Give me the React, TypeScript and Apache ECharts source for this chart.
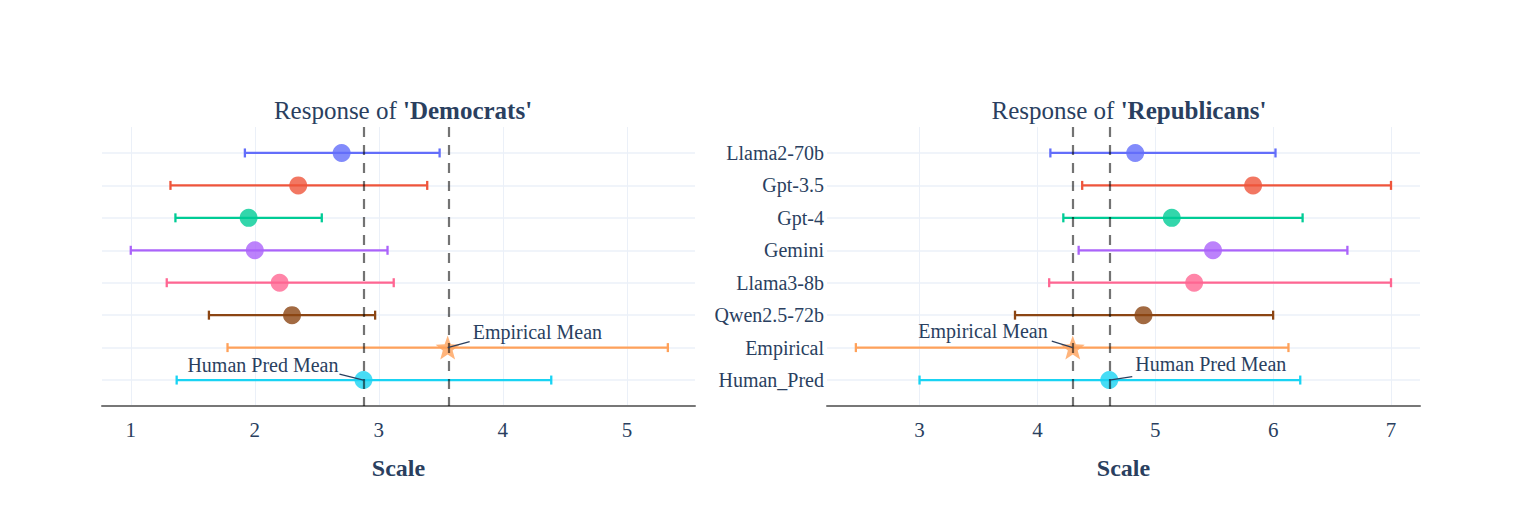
import React, { useEffect, useRef } from "react";
import * as echarts from "echarts";

const models = ["Llama2-70b", "Gpt-3.5", "Gpt-4", "Gemini", "Llama3-8b", "Qwen2.5-72b", "Empirical", "Human_Pred"];
const colors = ["#636EFA", "#EF553B", "#00CC96", "#AB63FA", "#FF6692", "#8B4513", "#FFA15A", "#19D3F3"];

const demMean = [2.70, 2.35, 1.95, 2.00, 2.20, 2.30, 3.555, 2.876];
const demLow = [1.92, 1.32, 1.36, 1.00, 1.29, 1.63, 1.78, 1.37];
const demHigh = [3.49, 3.39, 2.54, 3.07, 3.12, 2.97, 5.33, 4.39];

const repMean = [4.83, 5.83, 5.14, 5.49, 5.33, 4.90, 4.30, 4.61];
const repLow = [4.11, 4.38, 4.22, 4.35, 4.10, 3.81, 2.46, 3.00];
const repHigh = [6.02, 7.00, 6.25, 6.63, 7.00, 6.00, 6.13, 6.23];

const demTicks = [1, 2, 3, 4, 5];
const repTicks = [3, 4, 5, 6, 7];
const demRange = [0.768, 5.549];
const repRange = [2.215, 7.246];
const rowRange = [-0.8, 7.8];
const rowTicks = [0, 1, 2, 3, 4, 5, 6, 7];

const EMP = 6;
const HUM = 7;

const FONT = "Liberation Serif";
const TXT = "#2a3f5f";
const STAR = "path://M50,0 L62.5,34 L99,35.5 L70,58 L80.3,93.3 L50,73 L19.7,93.3 L30,58 L1,35.5 L37.5,34 Z";

export default function App() {
  const ref = useRef<HTMLDivElement>(null);
  useEffect(() => {
    if (!ref.current) return;
    const chart = echarts.init(ref.current, null, { renderer: "svg" });

    const errRender = (params: any, api: any) => {
      const idx = api.value(2);
      const lo = api.coord([api.value(0), idx]);
      const hi = api.coord([api.value(1), idx]);
      const c = colors[idx];
      const h = 4.5;
      const st = { stroke: c, lineWidth: 2.3 };
      return {
        type: "group",
        children: [
          { type: "line", shape: { x1: lo[0], y1: lo[1], x2: hi[0], y2: hi[1] }, style: st },
          { type: "line", shape: { x1: lo[0], y1: lo[1] - h, x2: lo[0], y2: lo[1] + h }, style: st },
          { type: "line", shape: { x1: hi[0], y1: hi[1] - h, x2: hi[0], y2: hi[1] + h }, style: st },
        ],
      };
    };

    const makeAnnRender = (layout: any[]) => (params: any, api: any) => {
      const i = params.dataIndex;
      const p = api.coord([api.value(0), api.value(1)]);
      const L = layout[i];
      return {
        type: "group",
        children: [
          {
            type: "line",
            shape: { x1: p[0], y1: p[1], x2: p[0] + L.ex, y2: p[1] + L.ey },
            style: { stroke: TXT, lineWidth: 1.2 },
          },
          {
            type: "text",
            x: p[0] + L.tx,
            y: p[1] + L.ty,
            style: {
              text: L.text,
              fill: TXT,
              fontFamily: FONT,
              fontSize: 20,
              align: L.align,
              verticalAlign: "middle",
            },
          },
        ],
      };
    };

    const demAnn = [
      { text: "Empirical Mean", tx: 25, ty: -16, ex: 22, ey: -6, align: "left" },
      { text: "Human Pred Mean", tx: -25, ty: -15, ex: -24, ey: -6, align: "right" },
    ];
    const repAnn = [
      { text: "Empirical Mean", tx: -25, ty: -17, ex: -21, ey: -6.5, align: "right" },
      { text: "Human Pred Mean", tx: 26, ty: -16.5, ex: 23, ey: -3.5, align: "left" },
    ];

    const xAxisBase = (gridIndex: number, range: number[], ticks: number[]) => ({
      type: "value",
      gridIndex,
      min: range[0],
      max: range[1],
      name: "Scale",
      nameLocation: "middle",
      nameGap: 50,
      nameTextStyle: { fontFamily: FONT, fontSize: 24, fontWeight: "bold", color: TXT },
      axisLine: { show: true, onZero: false, lineStyle: { color: "#777777", width: 2 } },
      axisTick: { show: false, customValues: ticks },
      axisLabel: { customValues: ticks, fontFamily: FONT, fontSize: 21, color: TXT, margin: 13 },
      splitLine: { show: true, lineStyle: { color: "#EBF0F8", width: 1 } },
    });

    const yAxisBase = (gridIndex: number, showLabels: boolean) => ({
      type: "value",
      gridIndex,
      min: rowRange[0],
      max: rowRange[1],
      inverse: true,
      axisLine: { show: false },
      axisTick: { show: false, customValues: rowTicks },
      axisLabel: {
        show: showLabels,
        customValues: rowTicks,
        formatter: (v: number) => models[Math.round(v)] ?? "",
        fontFamily: FONT,
        fontSize: 20,
        color: TXT,
        margin: 3,
      },
      splitLine: { show: true, lineStyle: { color: "#EBF0F8", width: 1.5 } },
    });

    const scatterData = (means: number[]) =>
      models.map((m, i) => ({
        value: [means[i], i],
        symbol: i === EMP ? STAR : "circle",
        symbolSize: i === EMP ? 24 : 18,
        itemStyle: { color: colors[i], opacity: 0.8 },
      }));

    const panelSeries = (k: number, means: number[], lows: number[], highs: number[], ann: any[]) => [
      {
        type: "custom",
        xAxisIndex: k,
        yAxisIndex: k,
        z: 2,
        renderItem: errRender,
        encode: { x: [0, 1], y: 2 },
        data: models.map((m, i) => [lows[i], highs[i], i]),
      },
      {
        type: "scatter",
        xAxisIndex: k,
        yAxisIndex: k,
        z: 3,
        data: scatterData(means),
        markLine: {
          silent: true,
          symbol: ["none", "none"],
          label: { show: false },
          lineStyle: { color: "rgba(0,0,0,0.55)", width: 2.2, type: [10, 8] },
          data: [{ xAxis: means[EMP] }, { xAxis: means[HUM] }],
        },
      },
      {
        type: "custom",
        xAxisIndex: k,
        yAxisIndex: k,
        z: 6,
        renderItem: makeAnnRender(ann),
        encode: { x: 0, y: 1 },
        data: [
          [means[EMP], EMP],
          [means[HUM], HUM],
        ],
      },
    ];

    const titleStyle = {
      fontFamily: FONT,
      fontSize: 25,
      fontWeight: "normal",
      color: TXT,
      rich: {
        a: { fontFamily: FONT, fontSize: 25, fontWeight: "normal", color: TXT },
        b: { fontFamily: FONT, fontSize: 25, fontWeight: "bold", color: TXT },
      },
    };

    chart.setOption({
      animation: false,
      backgroundColor: "#ffffff",
      textStyle: { fontFamily: FONT },
      title: [
        {
          text: "{a|Response of }{b|'Democrats'}",
          left: 398,
          top: 93,
          textAlign: "center",
          textStyle: titleStyle,
        },
        {
          text: "{a|Response of }{b|'Republicans'}",
          left: 1124,
          top: 93,
          textAlign: "center",
          textStyle: titleStyle,
        },
      ],
      grid: [
        { left: 102, top: 127, width: 593, height: 279 },
        { left: 827, top: 127, width: 593, height: 279 },
      ],
      xAxis: [xAxisBase(0, demRange, demTicks), xAxisBase(1, repRange, repTicks)],
      yAxis: [yAxisBase(0, false), yAxisBase(1, true)],
      series: [
        ...panelSeries(0, demMean, demLow, demHigh, demAnn),
        ...panelSeries(1, repMean, repLow, repHigh, repAnn),
      ],
    });
    return () => chart.dispose();
  }, []);
  return (
    <div
      ref={ref}
      style={{ position: "fixed", left: 0, top: 0, width: 1522, height: 508, background: "#fff" }}
    />
  );
}
